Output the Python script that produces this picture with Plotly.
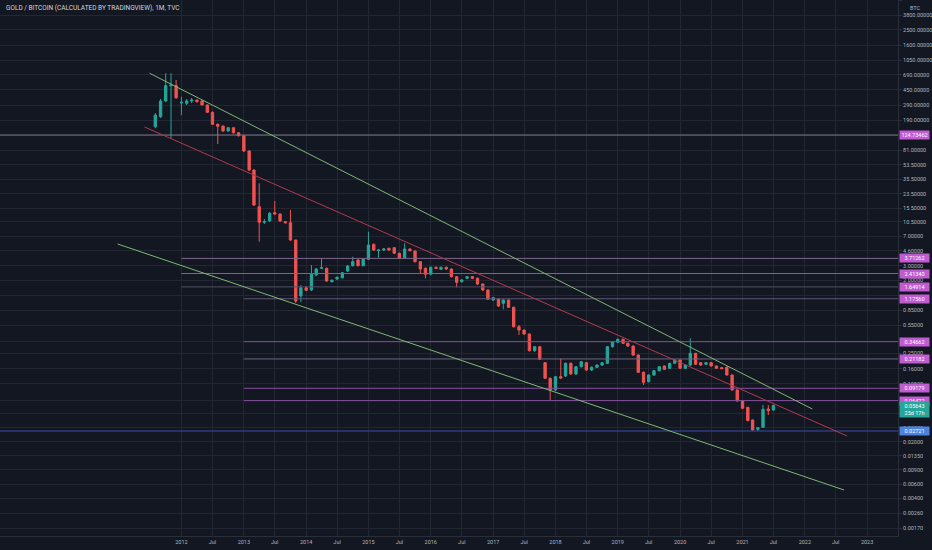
import numpy as np
import pandas as pd
import plotly.graph_objects as go

title = 'GOLD / BITCOIN (CALCULATED BY TRADINGVIEW), 1M, TVC'

# monthly candles, Aug 2011 .. Jul 2021 (values in BTC)
months = pd.date_range('2011-08-01', periods=120, freq='MS')

opens = [
    158, 210, 328.5, 508, 508,
    310, 308, 328.5, 338, 328.5, 293, 238, 169, 161, 140, 153.5, 133,
    122, 79.1, 46.0, 16.2, 10.4, 10.8, 13.65, 13.15, 10.56, 10.26, 6.27, 1.273,
    1.612, 1.510, 2.314, 2.800, 2.800, 1.912, 2.065, 2.142, 2.593, 3.015, 3.547, 3.015,
    3.618, 5.547, 4.623, 4.716, 4.950, 5.035, 4.293, 3.787, 4.852, 4.584, 3.379, 2.800,
    2.360, 2.881, 2.721, 2.881, 2.745, 2.205, 1.912, 2.106, 2.205, 2.106, 1.791, 1.510,
    1.135, 1.168, 1.033, 1.135, 0.9219, 0.5307, 0.4831, 0.4311, 0.2679, 0.3003, 0.1904, 0.1220,
    0.08747, 0.1277, 0.1303, 0.1872, 0.1380, 0.1699, 0.1904, 0.1546, 0.1670, 0.1783, 0.1872, 0.3003,
    0.3404, 0.3706, 0.3308, 0.3063, 0.2370, 0.1448, 0.1108, 0.1341, 0.1516, 0.1733, 0.1623, 0.1872,
    0.2056, 0.1623, 0.1783, 0.2488, 0.1904, 0.1819, 0.1904, 0.1733, 0.1651, 0.1670, 0.1341, 0.08747,
    0.06395, 0.05344, 0.03723, 0.02856, 0.03024, 0.05092, 0.04949,
]
closes = [
    220, 328.5, 508, 518, 361,
    317, 328.5, 338, 322, 293, 238, 169, 160, 140, 153.5, 133, 122,
    79.1, 46.0, 17.0, 10.38, 10.56, 13.42, 13.15, 10.77, 10.26, 6.27, 1.103, 1.612,
    1.497, 2.360, 2.745, 2.848, 1.951, 1.990, 2.167, 2.471, 2.990, 3.379, 3.015, 3.618,
    5.437, 4.716, 4.716, 4.852, 4.716, 4.293, 3.723, 4.852, 4.623, 3.379, 2.745, 2.360,
    2.881, 2.800, 2.881, 2.745, 2.205, 1.880, 2.007, 2.205, 2.106, 1.791, 1.510, 1.158,
    1.213, 0.9567, 1.135, 0.9219, 0.5307, 0.4831, 0.4311, 0.2679, 0.3003, 0.2097, 0.1220, 0.08747,
    0.1277, 0.1231, 0.1872, 0.1380, 0.1699, 0.1959, 0.1546, 0.1670, 0.1783, 0.1904, 0.3003, 0.3404,
    0.3706, 0.3308, 0.3063, 0.2370, 0.1448, 0.1089, 0.1341, 0.1516, 0.1699, 0.1577, 0.1872, 0.2056,
    0.1623, 0.1783, 0.2488, 0.1819, 0.1783, 0.1904, 0.1733, 0.1623, 0.1605, 0.1341, 0.08747, 0.06395,
    0.05194, 0.03650, 0.02800, 0.02990, 0.05048, 0.04852, 0.05643,
]
highs = [
    233, 348, 723, 723, 597,
    371, 348, 358, 343, 338, 297, 244, 173, 163.5, 156.6, 156.6, 135.8,
    124.7, 80.2, 46.7, 31.5, 11.41, 13.92, 19.04, 13.34, 10.77, 14.74, 6.36, 1.740,
    1.692, 3.076, 2.824, 3.723, 2.865, 2.035, 2.217, 2.520, 3.076, 3.897, 3.649, 3.702,
    7.941, 5.675, 4.852, 4.992, 5.064, 5.136, 4.392, 5.707, 4.950, 4.650, 3.447, 2.865,
    2.948, 2.948, 2.948, 2.948, 2.784, 2.249, 2.065, 2.249, 2.249, 2.155, 1.817, 1.531,
    1.237, 1.185, 1.152, 1.152, 0.9432, 0.5569, 0.4899, 0.4373, 0.3063, 0.3063, 0.1942, 0.1249,
    0.1303, 0.2157, 0.1915, 0.1915, 0.1733, 0.1998, 0.1942, 0.1709, 0.1809, 0.1942, 0.3063, 0.3482,
    0.3792, 0.3792, 0.3384, 0.3107, 0.2404, 0.1481, 0.1360, 0.1546, 0.1733, 0.1758, 0.1888, 0.2085,
    0.2085, 0.1809, 0.3814, 0.2510, 0.1942, 0.1942, 0.1942, 0.1758, 0.1684, 0.1709, 0.1360, 0.08873,
    0.06487, 0.05390, 0.03776, 0.03050, 0.05706, 0.05706, 0.05720,
]
lows = [
    151, 202, 319, 113.5, 348,
    220, 293, 310, 315, 293, 233, 166, 96.5, 136, 136, 130, 119.5,
    76.9, 44.7, 16.5, 5.97, 9.89, 10.47, 12.78, 10.47, 10.03, 6.09, 1.042, 1.063,
    1.468, 1.468, 2.249, 2.745, 1.896, 1.869, 2.007, 2.094, 2.520, 2.948, 2.948, 2.948,
    3.547, 4.584, 3.787, 4.584, 4.584, 4.208, 3.649, 3.702, 4.519, 3.303, 2.429, 2.106,
    2.314, 2.745, 2.668, 2.668, 2.155, 1.630, 1.869, 2.065, 2.065, 1.740, 1.468, 1.135,
    1.103, 0.9298, 0.8708, 0.9037, 0.5186, 0.4190, 0.4190, 0.2619, 0.2582, 0.2056, 0.1196, 0.0658,
    0.08501, 0.1196, 0.1266, 0.1341, 0.1341, 0.1660, 0.1503, 0.1503, 0.1637, 0.1733, 0.1835, 0.2935,
    0.3336, 0.3243, 0.2977, 0.2304, 0.1419, 0.1009, 0.1083, 0.1303, 0.1481, 0.1546, 0.1591, 0.1835,
    0.1591, 0.1591, 0.1733, 0.1783, 0.1733, 0.1783, 0.1709, 0.1591, 0.1591, 0.1322, 0.08624, 0.06305,
    0.05092, 0.03618, 0.02760, 0.02721, 0.02964, 0.04292, 0.04879,
]

# drawn trend lines (start/end)
trend_names = ['upper', 'mid', 'lower']
trend_x0 = ['2011-06-29', '2011-05-30', '2010-12-23']
trend_y0 = [723, 156.6, 5.6]
trend_x1 = ['2022-02-14', '2022-09-06', '2022-08-19']
trend_y1 = [0.0509, 0.0236, 0.00507]
trend_colors = ['#7fb872', '#b23a4e', '#7fb872']

# horizontal levels
level_values = [124.73462, 3.71262, 2.41340, 1.64914, 1.17560, 0.34662, 0.21182, 0.09179, 0.06472, 0.02721]
level_starts = ['2009-01-01', '2012-01-01', '2012-01-01', '2012-01-01', '2013-01-01',
                '2013-01-01', '2013-01-01', '2013-01-01', '2013-01-01', '2009-01-01']
level_colors = ['#7b7888', '#7e6690', '#7e6690', '#4f5063', '#64567c',
                '#8a4a99', '#6e6680', '#84509a', '#84509a', '#3a4ca8']
label_colors = ['#c05bd2'] * 9 + ['#4c82e0']

last_price = 0.05643
countdown = '25d 17h'

y_ticks = [5800, 3800, 2500, 1600, 1050, 690, 450, 290, 190, 124, 81, 53.5, 35.5, 23.5,
           15.5, 10.5, 7, 4.6, 3, 2, 1.3, 0.85, 0.55, 0.35, 0.25, 0.16, 0.105, 0.065,
           0.045, 0.03, 0.02, 0.0135, 0.009, 0.006, 0.004, 0.0026, 0.0017]
# ticks whose labels sit under a price label box
covered_ticks = [124, 1.3, 0.35, 0.065, 0.045]

x_start, x_end = '2009-02-02', '2023-07-01'
tick_dates = pd.date_range('2012-01-01', '2023-01-01', freq='6MS')
tick_text = [str(d.year) if d.month == 1 else 'Jul' for d in tick_dates]

bg = '#131722'
grid = '#232733'
txt = '#b2b5be'

fig = go.Figure()

fig.add_trace(go.Candlestick(
    x=months, open=opens, high=highs, low=lows, close=closes,
    increasing=dict(line=dict(color='#26a69a', width=1), fillcolor='#26a69a'),
    decreasing=dict(line=dict(color='#ef5350', width=1), fillcolor='#ef5350'),
    showlegend=False, hoverinfo='skip'))

for i in range(len(level_values)):
    fig.add_trace(go.Scatter(x=[level_starts[i], x_end], y=[level_values[i]] * 2,
                             mode='lines', line=dict(color=level_colors[i], width=1),
                             showlegend=False, hoverinfo='skip'))

for i in range(len(trend_names)):
    fig.add_trace(go.Scatter(x=[trend_x0[i], trend_x1[i]], y=[trend_y0[i], trend_y1[i]],
                             mode='lines', line=dict(color=trend_colors[i], width=1),
                             showlegend=False, hoverinfo='skip'))

def fmt(v):
    return '%.5f' % v

annos = [dict(text=title, xref='paper', yref='paper', x=0.004, y=0.997, xanchor='left',
              yanchor='top', showarrow=False, font=dict(size=6.5, color='#d1d4dc'))]
annos.append(dict(text='BTC', xref='paper', yref='paper', x=1, y=0.986, xanchor='left',
                  xshift=10, yanchor='middle', showarrow=False, font=dict(size=5.5, color=txt)))
for v, c in zip(level_values, label_colors):
    annos.append(dict(text=fmt(v), xref='paper', yref='y', x=1, y=np.log10(v), xanchor='left',
                      xshift=1, showarrow=False, bgcolor=c, width=27, borderpad=1,
                      font=dict(size=5.5, color='#ffffff')))
annos.append(dict(text=fmt(last_price) + '<br>' + countdown, xref='paper', yref='y', x=1,
                  y=np.log10(last_price), yanchor='top', yshift=4, xanchor='left', xshift=1,
                  showarrow=False, bgcolor='#26a69a', width=27, borderpad=1,
                  font=dict(size=5.5, color='#ffffff')))

fig.update_layout(
    width=932, height=550,
    margin=dict(l=0, r=31, t=0, b=14),
    paper_bgcolor=bg, plot_bgcolor=bg,
    font=dict(family='Roboto', color=txt),
    annotations=annos,
    xaxis=dict(type='date', range=[x_start, x_end], rangeslider=dict(visible=False),
               tickvals=tick_dates, ticktext=tick_text, tickfont=dict(size=5.5, color=txt),
               showgrid=True, gridcolor=grid, gridwidth=1, zeroline=False,
               showline=True, linecolor='#2a2e39', ticks=''),
    yaxis=dict(type='log', side='right', range=[-2.864, 3.7658],
               tickvals=y_ticks,
               ticktext=['' if v in covered_ticks else fmt(v) for v in y_ticks],
               tickfont=dict(size=5.5, color=txt), showgrid=True, gridcolor=grid, gridwidth=1,
               zeroline=False, showline=True, linecolor='#2a2e39', ticks='outside',
               ticklen=3, tickcolor='#2a2e39'),
)

fig.write_html('out.html', config={'displayModeBar': False},
               post_script="document.body.style.margin='0';document.body.style.overflow='hidden';")
